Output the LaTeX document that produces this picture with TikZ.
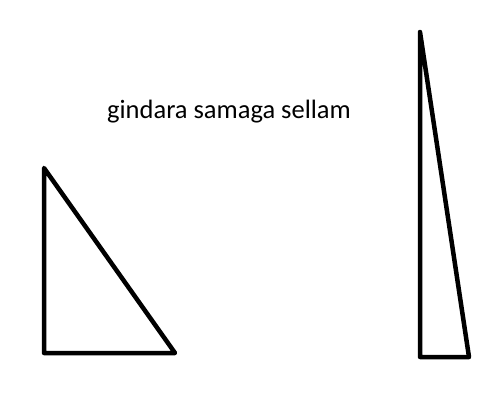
\documentclass[tikz,border=0pt]{standalone}
\usepackage{fontspec}
\setmainfont{Carlito}
\begin{document}
\begin{tikzpicture}[
    x=1pt, y=-1pt,
    tri/.style={draw, line width=4.5pt, line join=round, line cap=round},
    caption/.style={font=\fontsize{26.5}{30}\selectfont, inner sep=0pt, anchor=base}
]
    \useasboundingbox (0,0) rectangle (487,406);

    % Text
    \node[caption] (title) at (229,119) {gindara samaga sellam};

    % Left triangle
    \draw[tri] (44,168) -- (44,353) -- (175,353) -- cycle;

    % Right triangle
    \draw[tri] (420,32) -- (420,357) -- (469,357) -- cycle;
\end{tikzpicture}
\end{document}
